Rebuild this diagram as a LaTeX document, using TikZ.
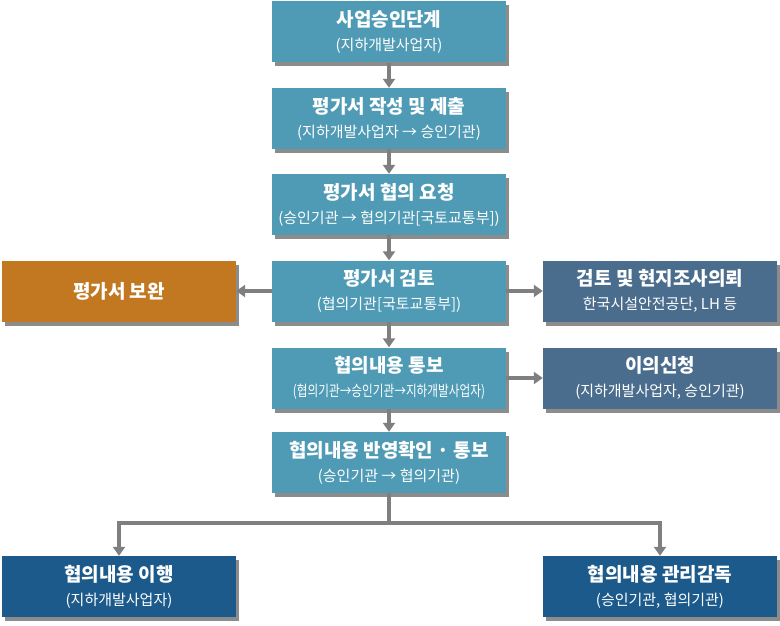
\documentclass[tikz,border=0pt]{standalone}
\usepackage{fontspec}
\setmainfont{Noto Sans CJK KR}
\usetikzlibrary{arrows.meta,shadows}
\definecolor{teal1}{HTML}{4F9BB5}
\definecolor{orng}{HTML}{C27820}
\definecolor{slate}{HTML}{4A6D8D}
\definecolor{dblue}{HTML}{1B5A8B}
\definecolor{arr}{HTML}{7F7F7F}
\newcommand{\ttlx}[1]{{\bfseries\fontsize{19}{22}\selectfont #1}}
\newcommand{\subx}[1]{{\fontsize{15}{18}\selectfont #1}}
\begin{document}
\begin{tikzpicture}[x=1pt,y=-1pt,
  box/.style={minimum width=234pt, minimum height=61pt, inner sep=0pt, text=white, align=center,
    font=\fontsize{15}{24}\selectfont,
    drop shadow={shadow xshift=3pt, shadow yshift=-4pt, fill=black!45, opacity=1}},
  tbox/.style={box, fill=teal1},
  obox/.style={box, fill=orng},
  sbox/.style={box, fill=slate},
  dbox/.style={box, fill=dblue},
  conn/.style={draw=arr, line width=3.5pt, -{Triangle[width=12pt,length=9pt]}},
  line/.style={draw=arr, line width=3.5pt}]
\useasboundingbox (0,0) rectangle (780,626);
\node[tbox] (b1) at (389,32) {\ttlx{사업승인단계}\\\subx{(지하개발사업자)}};
\node[tbox] (b2) at (389,118.5) {\ttlx{평가서 작성 및 제출}\\\subx{(지하개발사업자 → 승인기관)}};
\node[tbox] (b3) at (389,204.5) {\ttlx{평가서 협의 요청}\\\subx{(승인기관 → 협의기관[국토교통부])}};
\node[tbox] (b4) at (389,291) {\ttlx{평가서 검토}\\\subx{(협의기관[국토교통부])}};
\node[tbox] (b5) at (389,378) {\ttlx{협의내용 통보}\\\resizebox{192pt}{\height}{\subx{(협의기관→승인기관→지하개발사업자)}}};
\node[tbox] (b6) at (389,462.5) {\ttlx{협의내용 반영확인 · 통보}\\\subx{(승인기관 → 협의기관)}};
\node[obox] (o1) at (119,291) {\ttlx{평가서 보완}};
\node[sbox] (s1) at (660,291) {\ttlx{검토 및 현지조사의뢰}\\\subx{한국시설안전공단, LH 등}};
\node[sbox] (s2) at (660,378) {\ttlx{이의신청}\\\subx{(지하개발사업자, 승인기관)}};
\node[dbox] (d1) at (119,586.5) {\ttlx{협의내용 이행}\\\subx{(지하개발사업자)}};
\node[dbox] (d2) at (660,586.5) {\ttlx{협의내용 관리감독}\\\subx{(승인기관, 협의기관)}};
\draw[conn] (b1) -- (b2);
\draw[conn] (b2) -- (b3);
\draw[conn] (b3) -- (b4);
\draw[conn] (b4) -- (b5);
\draw[conn] (b5) -- (b6);
\draw[conn] (b4) -- (o1);
\draw[conn] (b4) -- (s1);
\draw[conn] (b5) -- (s2);
\coordinate (j) at (389,523);
\draw[line] (b6.south) -- (j);
\draw[conn] (j) -| (d1.north);
\draw[conn] (j) -| (d2.north);
\end{tikzpicture}
\end{document}
